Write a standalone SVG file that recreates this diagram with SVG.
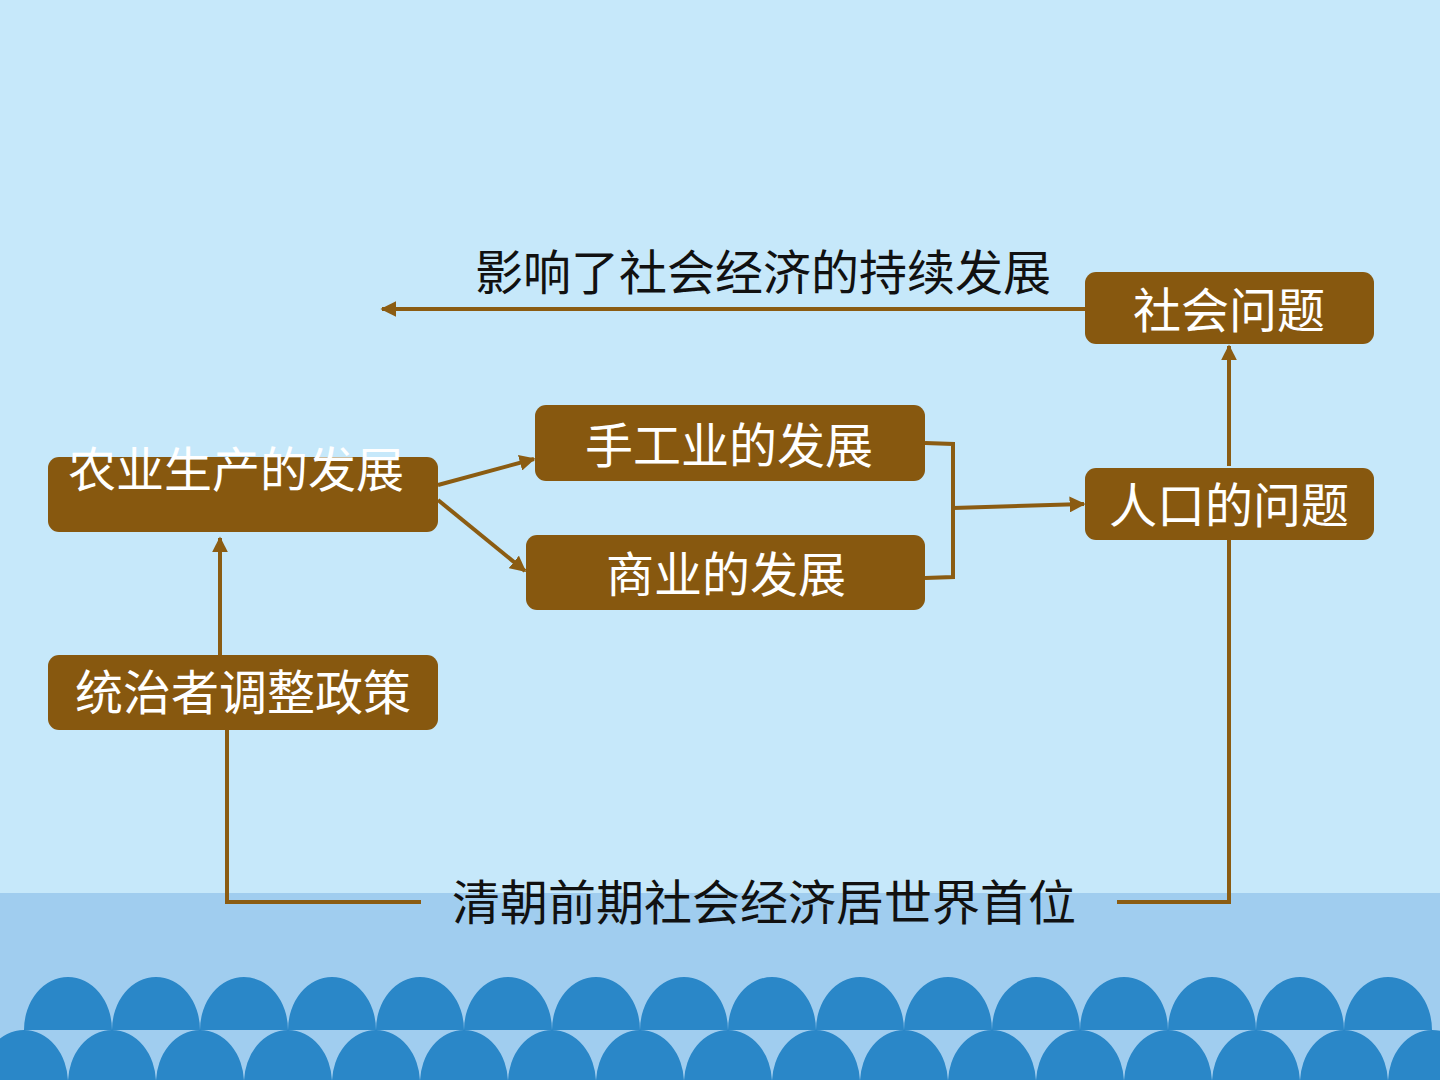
<svg xmlns="http://www.w3.org/2000/svg" width="1440" height="1080" viewBox="0 0 1440 1080">
<defs>
<style>
.box{fill:#87580F;}
.bt{font-family:"Noto Sans CJK SC","Noto Sans",sans-serif;font-size:48px;fill:#FFFFFF;text-anchor:middle;}
.lt{font-family:"Noto Sans CJK SC","Noto Sans",sans-serif;font-size:48px;fill:#111111;text-anchor:middle;}
.ln{fill:none;stroke:#8B5C12;stroke-width:4;}
.wave{fill:#2A87C8;}
</style>
<marker id="ah" viewBox="0 0 10 10" refX="9" refY="5" markerWidth="4" markerHeight="4" orient="auto" markerUnits="strokeWidth">
<path d="M0,0 L10,5 L0,10 z" fill="#8B5C12"/>
</marker>
</defs>
<rect x="0" y="0" width="1440" height="1080" fill="#C6E8FA"/>
<rect x="0" y="893" width="1440" height="187" fill="#A0CDEF"/>
<g id="waves">
<path class="wave" d="M24,1030 A44,53 0 0 1 112,1030 Z M112,1030 A44,53 0 0 1 200,1030 Z M200,1030 A44,53 0 0 1 288,1030 Z M288,1030 A44,53 0 0 1 376,1030 Z M376,1030 A44,53 0 0 1 464,1030 Z M464,1030 A44,53 0 0 1 552,1030 Z M552,1030 A44,53 0 0 1 640,1030 Z M640,1030 A44,53 0 0 1 728,1030 Z M728,1030 A44,53 0 0 1 816,1030 Z M816,1030 A44,53 0 0 1 904,1030 Z M904,1030 A44,53 0 0 1 992,1030 Z M992,1030 A44,53 0 0 1 1080,1030 Z M1080,1030 A44,53 0 0 1 1168,1030 Z M1168,1030 A44,53 0 0 1 1256,1030 Z M1256,1030 A44,53 0 0 1 1344,1030 Z M1344,1030 A44,53 0 0 1 1432,1030 Z"/>
<path class="wave" d="M-20,1083 A44,53 0 0 1 68,1083 Z M68,1083 A44,53 0 0 1 156,1083 Z M156,1083 A44,53 0 0 1 244,1083 Z M244,1083 A44,53 0 0 1 332,1083 Z M332,1083 A44,53 0 0 1 420,1083 Z M420,1083 A44,53 0 0 1 508,1083 Z M508,1083 A44,53 0 0 1 596,1083 Z M596,1083 A44,53 0 0 1 684,1083 Z M684,1083 A44,53 0 0 1 772,1083 Z M772,1083 A44,53 0 0 1 860,1083 Z M860,1083 A44,53 0 0 1 948,1083 Z M948,1083 A44,53 0 0 1 1036,1083 Z M1036,1083 A44,53 0 0 1 1124,1083 Z M1124,1083 A44,53 0 0 1 1212,1083 Z M1212,1083 A44,53 0 0 1 1300,1083 Z M1300,1083 A44,53 0 0 1 1388,1083 Z M1388,1083 A44,53 0 0 1 1476,1083 Z"/>
</g>
<g id="connectors">
<line class="ln" x1="1085" y1="309" x2="382" y2="309" marker-end="url(#ah)"/>
<line class="ln" x1="1229" y1="466" x2="1229" y2="346" marker-end="url(#ah)"/>
<line class="ln" x1="438" y1="485" x2="534" y2="459" marker-end="url(#ah)"/>
<line class="ln" x1="438" y1="500" x2="525" y2="571" marker-end="url(#ah)"/>
<polyline class="ln" points="925,443 953,444 953,577 925,578"/>
<line class="ln" x1="953" y1="508" x2="1084" y2="504" marker-end="url(#ah)"/>
<line class="ln" x1="220" y1="655" x2="220" y2="538" marker-end="url(#ah)"/>
<polyline class="ln" points="227,730 227,902 421,902"/>
<polyline class="ln" points="1117,902 1229,902 1229,540"/>
</g>
<g id="node-agri">
<rect class="box" x="48" y="457" width="390" height="75" rx="11"/>
<text class="bt" x="236" y="487">农业生产的发展</text>
</g>
<g id="node-ruler">
<rect class="box" x="48" y="655" width="390" height="75" rx="11"/>
<text class="bt" x="243" y="710">统治者调整政策</text>
</g>
<g id="node-craft">
<rect class="box" x="535" y="405" width="390" height="76" rx="11"/>
<text class="bt" x="729" y="463">手工业的发展</text>
</g>
<g id="node-commerce">
<rect class="box" x="526" y="535" width="399" height="75" rx="11"/>
<text class="bt" x="726" y="592">商业的发展</text>
</g>
<g id="node-population">
<rect class="box" x="1085" y="468" width="289" height="72" rx="11"/>
<text class="bt" x="1229" y="523">人口的问题</text>
</g>
<g id="node-social">
<rect class="box" x="1085" y="272" width="289" height="72" rx="11"/>
<text class="bt" x="1229" y="328">社会问题</text>
</g>
<g id="label-top">
<text class="lt" x="763" y="290">影响了社会经济的持续发展</text>
</g>
<g id="label-bottom">
<text class="lt" x="764" y="920">清朝前期社会经济居世界首位</text>
</g>
</svg>
